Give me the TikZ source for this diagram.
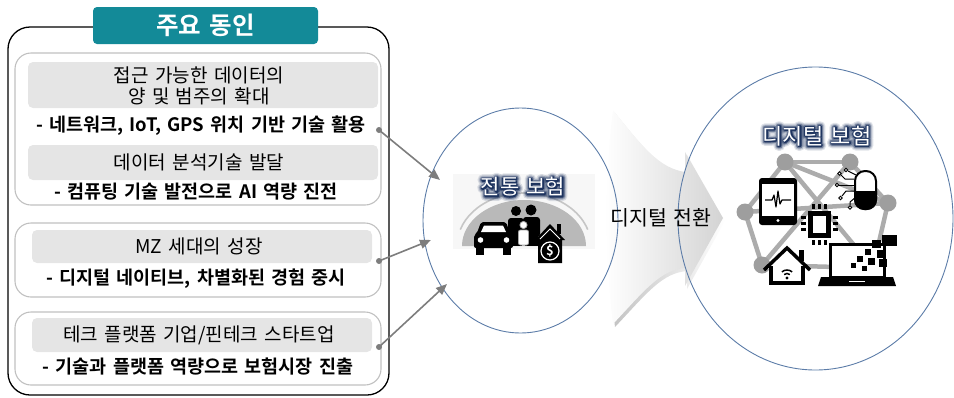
\documentclass[tikz,border=0pt]{standalone}
\usepackage{fontspec}
\setmainfont{Noto Sans CJK KR}[BoldFont={Noto Sans CJK KR Bold},WordSpace=1.5]
\usetikzlibrary{arrows.meta,shapes.geometric,calc,fadings}

\definecolor{tabteal}{RGB}{19,138,152}
\definecolor{hdrgray}{RGB}{229,229,229}
\definecolor{grpline}{RGB}{192,192,192}
\definecolor{ringblue}{RGB}{92,124,168}
\definecolor{glownavy}{RGB}{28,50,94}
\definecolor{linkgray}{RGB}{125,125,125}
\definecolor{netgray}{RGB}{172,172,172}

\tikzset{
  outerbox/.style={draw=black,line width=1.3pt,rounded corners=22pt,inner sep=0pt},
  tabbox/.style={fill=tabteal,rounded corners=4pt,inner sep=0pt,text=white,
    font=\bfseries\fontsize{24.5}{27}\selectfont},
  groupbox/.style={draw=grpline,line width=1.1pt,rounded corners=16pt,inner sep=0pt},
  hdrbox/.style={fill=hdrgray,rounded corners=5pt,inner sep=0pt},
  hdrtext/.style={align=center,inner sep=0pt,font=\fontsize{19}{21}\selectfont},
  boldline/.style={inner sep=0pt,font=\bfseries\fontsize{18.5}{20}\selectfont},
  ring/.style={draw=ringblue,line width=0.9pt,ellipse,inner sep=0pt},
  linkdot/.style={fill=linkgray,circle,inner sep=0pt,minimum size=6pt},
  link/.style={draw=linkgray,line width=1.6pt,-{Triangle[length=11pt,width=9pt]}},
  glowtxt/.style={text=glownavy,inner sep=0pt},
  whitetxt/.style={text=white,inner sep=0pt},
  netedge/.style={draw=netgray,line width=4.5pt,line cap=round},
  netnode/.style={fill=netgray!92!black,circle,inner sep=0pt,minimum size=17pt},
}

% glyphs drawn with a thick outline stroke (fill + stroke render mode)
\newcommand\strokedtext[2]{\special{pdf:literal direct 2 Tr #1 w 1 j}#2\special{pdf:literal direct 0 Tr}}
% white caption with a soft dark navy halo; #4 is the font size
\newcommand\halolabel[4]{%
  \foreach \halow/\haloop [count=\k] in {9.5/.14,7/.22,4.6/.45,2.4/.95}
    \node[glowtxt,opacity=\haloop,font=\fontsize{#4}{#4}\selectfont] (#1halo\k) at (#2) {\strokedtext{\halow}{#3}};
  \node[whitetxt,font=\fontsize{#4}{#4}\selectfont] (#1) at (#2) {#3};}

\begin{document}
\begin{tikzpicture}[x=1pt,y=-1pt]
\useasboundingbox (0,0) rectangle (954,397);

% ---------------- drivers panel ----------------
\node[outerbox,minimum width=381pt,minimum height=368pt] (panel) at (198.5,211) {};
\node[tabbox,minimum width=225pt,minimum height=37pt] (title) at (205.5,25.5) {주요 동인};

\node[groupbox,minimum width=366pt,minimum height=152pt] (g1) at (198,129) {};
\node[hdrbox,minimum width=350pt,minimum height=46pt] (g1h1) at (203,85) {};
\node[hdrtext] (g1t1) at (199,85.5) {접근 가능한 데이터의\\양 및 범주의 확대};
\node[boldline] (g1b1) at (201,126) {- 네트워크, IoT, GPS 위치 기반 기술 활용};
\node[hdrbox,minimum width=350pt,minimum height=35pt] (g1h2) at (203,162.5) {};
\node[hdrtext] (g1t2) at (199,162.5) {데이터 분석기술 발달};
\node[boldline] (g1b2) at (196,192) {- 컴퓨팅 기술 발전으로 AI 역량 진전};

\node[groupbox,minimum width=366pt,minimum height=74pt] (g2) at (198,260) {};
\node[hdrbox,minimum width=340pt,minimum height=33pt] (g2h) at (202,246.5) {};
\node[hdrtext] (g2t) at (199,246.5) {MZ 세대의 성장};
\node[boldline] (g2b) at (196,279) {- 디지털 네이티브, 차별화된 경험 중시};

\node[groupbox,minimum width=366pt,minimum height=73pt] (g3) at (198,348.5) {};
\node[hdrbox,minimum width=340pt,minimum height=34pt] (g3h) at (202,335) {};
\node[hdrtext] (g3t) at (199,335) {테크 플랫폼 기업/핀테크 스타트업};
\node[boldline] (g3b) at (198,367) {- 기술과 플랫폼 역량으로 보험시장 진출};

% ---------------- transition arrow ----------------
\begin{scope}
  \path[fill=gray,opacity=.5,path fading=east,shift={(2,3)}]
    (613,110) .. controls (645,150) and (660,168) .. (685,172) -- (685,152)
    -- (723,218) -- (685,286) -- (685,268)
    .. controls (660,270) and (645,290) .. (613,324)
    .. controls (604,250) and (604,180) .. cycle;
  \shade[left color=white,right color=gray!34]
    (613,110) .. controls (645,150) and (660,168) .. (685,172) -- (685,152)
    -- (723,218) -- (685,286) -- (685,268)
    .. controls (660,270) and (645,290) .. (613,324)
    .. controls (604,250) and (604,180) .. cycle;
\end{scope}

% ---------------- traditional insurance ----------------
\node[ring,minimum width=195pt,minimum height=225pt] (trad) at (520.5,220.5) {};
\fill[gray!6] (453,174) rectangle (595,249);
% umbrella
\draw[gray!45,line width=1.6pt] (524,246) ++(162:67pt and 53pt)
  arc[start angle=162,end angle=18,x radius=67pt,y radius=53pt];
\fill[gray!55] (462,246) arc[start angle=180,end angle=0,x radius=62pt,y radius=46pt] -- cycle;
% parents and child
\fill[black] (516,211) circle[radius=5pt];
\fill[black] (531,210) circle[radius=5.5pt];
\fill[black,rounded corners=3pt] (508,218) rectangle (524,237);
\fill[black] (510,234) rectangle (522,246);
\fill[black,rounded corners=3pt] (523,217) rectangle (540,237);
\fill[black] (525,234) rectangle (538,246);
\filldraw[fill=white,draw=gray!70,line width=.8pt] (523.5,225) circle[radius=3.6pt];
\filldraw[fill=white,draw=gray!70,line width=.8pt,rounded corners=2pt] (518.5,230) rectangle (528.5,245);
% car
\fill[black,rounded corners=2pt] (481,222) -- (506,222) -- (510,233) -- (513,235)
  -- (513,248) -- (474,248) -- (474,235) -- (477,233) -- cycle;
\fill[black] (476,246) rectangle (484,255);
\fill[black] (503,246) rectangle (511,255);
\fill[white] (484,225.5) -- (503,225.5) -- (506,232) -- (481,232) -- cycle;
\fill[white] (480.5,240) circle[radius=2.8pt];
\fill[white] (506.5,240) circle[radius=2.8pt];
% house with coin
\fill[black] (535,240) -- (550,224) -- (565,240) -- (562,240) -- (562,263)
  -- (538,263) -- (538,240) -- cycle;
\fill[black] (557,224) rectangle (561,234);
\draw[white,line width=1pt] (540,239) -- (550,229) -- (560,239);
\filldraw[fill=black,draw=white,line width=1.2pt] (550,251) circle[radius=9pt];
\node[text=white,inner sep=0pt,font=\bfseries\fontsize{13}{13}\selectfont] (coin) at (550,251) {\$};

\halolabel{tradlbl}{523,187}{전통 보험}{21}

% ---------------- digital insurance ----------------
\node[ring,minimum width=275pt,minimum height=303pt] (digi) at (815.5,218.5) {};
\coordinate (nA) at (785,162);
\coordinate (nB) at (850,162);
\coordinate (nC) at (745,212);
\coordinate (nD) at (888,203);
\coordinate (nE) at (762,265);
\coordinate (nF) at (873,268);
\foreach \p/\q in {nA/nB,nA/nC,nC/nE,nB/nD,nD/nF,nA/nF,nB/nE,nC/nD,nE/nF,nA/nD}
  \draw[netedge] (\p) -- (\q);
\foreach \p in {nA,nB,nC,nD,nE,nF}
  \node[netnode] (dot\p) at (\p) {};

% tablet with pulse
\fill[black,rounded corners=3pt] (759,178) rectangle (797,225);
\fill[white] (762,184) rectangle (794,216);
\fill[white] (778,220.5) circle[radius=1.6pt];
\draw[black,line width=1.2pt,line join=round] (765,200) -- (772,200) -- (774,195) -- (776,207)
  -- (778,191) -- (780,204) -- (782,200) -- (791,200);

% capsule with circuit traces
\draw[black,line width=1pt] (854,179) -- (845,179) -- (841,175);
\draw[black,line width=1pt] (854,185) -- (839,185);
\draw[black,line width=1pt] (854,191) -- (846,191) -- (842,196);
\draw[black,line width=1pt] (856,197) -- (850,202) -- (850,205);
\draw[black,line width=1pt] (856,175) -- (848,171);
\foreach \cx/\cy in {839.5/173.5,837/185,840.5/198,850/207.5,846/170}
  \filldraw[fill=white,draw=black,line width=.9pt] (\cx,\cy) circle[radius=1.8pt];
\draw[black,line width=2pt,fill=white,rounded corners=10pt] (855,171) rectangle (876,209);
\begin{scope}
  \clip (850,191) rectangle (880,212);
  \fill[black,rounded corners=10pt] (854,170) rectangle (877,210);
\end{scope}

% processor chip
\fill[black] (808,211) rectangle (831,238);
\fill[white] (813,216) rectangle (826,233);
\foreach \px in {812,818,824}{
  \fill[black] (\px,204) rectangle (\px+3,209);
  \fill[black] (\px,240) rectangle (\px+3,245);}
\foreach \py in {216,222,228}{
  \fill[black] (801,\py) rectangle (806,\py+3);
  \fill[black] (833,\py) rectangle (838,\py+3);}

% smart home
\fill[white] (766,269) -- (787,249) -- (808,269) -- (803,269) -- (803,283) -- (771,283) -- (771,269) -- cycle;
\fill[black] (799,250) rectangle (804,261);
\draw[black,line width=3.5pt,line join=miter] (764,270) -- (787,248) -- (810,270);
\draw[black,line width=3.5pt] (771,266) -- (771,283) -- (803,283) -- (803,266);
\fill[black] (787,278) circle[radius=1.6pt];
\foreach \r in {4.5,8}
  \draw[black,line width=1.5pt] (787,278) ++(50:\r pt) arc[start angle=50,end angle=130,radius=\r pt];

% laptop with pixels
\draw[black,line width=3pt,fill=white] (830,244) rectangle (884,277);
\fill[black] (821,277) -- (893,277) -- (896,286) -- (818,286) -- cycle;
\draw[white,line width=1pt] (849,281.5) -- (865,281.5);
\foreach \ax/\ay/\bx/\by in {882/235/897/246,872/240/881/248,877/250/886/258,865/249/871/255,
  868/258/875/265,857/256/863/262,879/259/887/267,851/263/856/268,862/266/867/271}
  \fill[black] (\ax,\ay) rectangle (\bx,\by);

\halolabel{digilbl}{817,136}{디지털 보험}{22}

% ---------------- transition caption ----------------
\node[inner sep=0pt,font=\fontsize{20.5}{22}\selectfont] (shift) at (661,218) {디지털 전환};

% ---------------- connectors ----------------
\node[linkdot] (d1) at (379,130) {};
\node[linkdot] (d2) at (379,261) {};
\node[linkdot] (d3) at (379,347) {};
\coordinate (e1) at (440,180);
\coordinate (e2) at (431,240);
\coordinate (e3) at (447,284);
\draw[link] (d1.center) -- (e1);
\draw[link] (d2.center) -- (e2);
\draw[link] (d3.center) -- (e3);
\end{tikzpicture}
\end{document}
